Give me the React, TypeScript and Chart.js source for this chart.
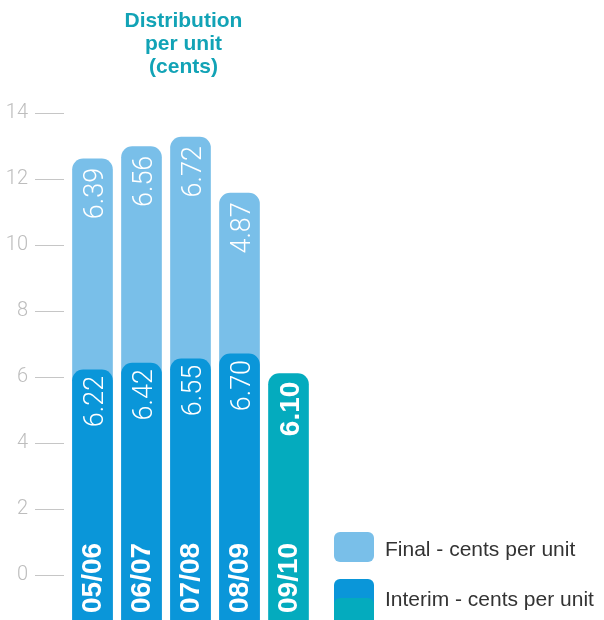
import React, { useEffect, useRef } from "react";
import { Chart, registerables } from "chart.js";

Chart.register(...registerables);

const CATEGORIES = ["05/06", "06/07", "07/08", "08/09", "09/10"];
const INTERIM = [6.22, 6.42, 6.55, 6.7, 6.1];
const FINAL: (number | null)[] = [6.39, 6.56, 6.72, 4.87, null];
const Y_TICKS = [0, 2, 4, 6, 8, 10, 12, 14];
const TITLE_LINES = ["Distribution", "per unit", "(cents)"];
const LEGEND_LABELS = ["Final - cents per unit", "Interim - cents per unit"];

const C_FINAL = "#79bfe9";
const C_INTERIM = "#0a96d9";
const C_CURRENT = "#04abbe";
const C_TITLE = "#12a3b6";

const Y_MIN = -45 / 33;
const Y_MAX = 14.5;
const X_MIN = -28.5 / 49;
const X_MAX = X_MIN + 540 / 49;

const LIGHT_FONT = "300 27px Roboto, 'Liberation Sans', sans-serif";
const BOLD_FONT = "bold 28px 'Liberation Sans', Arial, sans-serif";

const barLabels = {
  id: "barLabels",
  afterDatasetsDraw(chart: any) {
    const ctx = chart.ctx;
    const finalMeta = chart.getDatasetMeta(0);
    const interimMeta = chart.getDatasetMeta(1);
    const last = CATEGORIES.length - 1;
    ctx.save();
    ctx.fillStyle = "#ffffff";
    ctx.textBaseline = "alphabetic";
    const drawRot = (text: string, x: number, y: number, align: CanvasTextAlign, font: string) => {
      ctx.save();
      ctx.translate(x, y);
      ctx.rotate(-Math.PI / 2);
      ctx.font = font;
      ctx.textAlign = align;
      ctx.fillText(text, 0, 0);
      ctx.restore();
    };
    CATEGORIES.forEach((cat, i) => {
      const f = FINAL[i];
      const fe = finalMeta.data[i];
      if (f != null && fe) {
        drawRot(f.toFixed(2), fe.x + 10, fe.y + 9, "right", LIGHT_FONT);
      }
      const ie = interimMeta.data[i];
      if (ie) {
        drawRot(
          INTERIM[i].toFixed(2),
          ie.x + 10,
          ie.y + (i === last ? 8 : 6),
          "right",
          i === last ? BOLD_FONT : LIGHT_FONT
        );
        drawRot(cat, ie.x + 8, ie.base - 7, "left", BOLD_FONT);
      }
    });
    ctx.restore();
  },
};

export default function App() {
  const canvasRef = useRef<HTMLCanvasElement | null>(null);

  useEffect(() => {
    if (!canvasRef.current) return;
    const radius = { topLeft: 11, topRight: 11, bottomLeft: 0, bottomRight: 0 };
    const chart = new Chart(canvasRef.current, {
      type: "bar",
      data: {
        datasets: [
          {
            label: LEGEND_LABELS[0],
            data: CATEGORIES.map((_, i) => ({
              x: i,
              y: FINAL[i] == null ? null : INTERIM[i] + (FINAL[i] as number),
            })),
            backgroundColor: C_FINAL,
            order: 2,
            grouped: false,
            barThickness: 40,
            base: Y_MIN,
            borderRadius: radius,
            borderSkipped: false,
          } as any,
          {
            label: LEGEND_LABELS[1],
            data: CATEGORIES.map((_, i) => ({ x: i, y: INTERIM[i] })),
            backgroundColor: CATEGORIES.map((_, i) => (i === CATEGORIES.length - 1 ? C_CURRENT : C_INTERIM)),
            order: 1,
            grouped: false,
            barThickness: 40,
            base: Y_MIN,
            borderRadius: radius,
            borderSkipped: false,
          } as any,
        ],
      },
      options: {
        animation: false,
        responsive: true,
        maintainAspectRatio: false,
        layout: { padding: { top: 96.5, right: 0, bottom: 0, left: 0 } },
        plugins: {
          legend: { display: false },
          tooltip: { enabled: false },
          title: { display: false },
        },
        scales: {
          x: {
            type: "linear",
            display: false,
            offset: false,
            grid: { offset: false },
            min: X_MIN,
            max: X_MAX,
          },
          y: {
            type: "linear",
            min: Y_MIN,
            max: Y_MAX,
            afterBuildTicks: (scale: any) => {
              scale.ticks = Y_TICKS.map((v) => ({ value: v }));
            },
            afterFit: (scale: any) => {
              scale.width = 64;
              scale.paddingTop = 0;
              scale.paddingBottom = 0;
            },
            border: { display: false },
            grid: {
              display: true,
              drawOnChartArea: false,
              drawTicks: true,
              tickLength: 29,
              color: "#c6c6c6",
              lineWidth: 1,
            },
            ticks: {
              padding: 7,
              color: "#bdbdbd",
              font: { family: "Roboto, 'Liberation Sans', sans-serif", size: 20, weight: 300 as any },
              callback: (v: any) => String(v),
            },
          },
        },
      } as any,
      plugins: [barLabels],
    });
    return () => chart.destroy();
  }, []);

  const legendText: React.CSSProperties = {
    position: "absolute",
    left: 385,
    font: "21px 'Liberation Sans', Arial, sans-serif",
    lineHeight: "21px",
    color: "#333333",
    whiteSpace: "nowrap",
  };

  return (
    <div
      style={{
        position: "fixed",
        left: 0,
        top: 0,
        width: 604,
        height: 620,
        overflow: "hidden",
        background: "#ffffff",
      }}
    >
      <div style={{ position: "absolute", left: 0, top: 0, width: 604, height: 620 }}>
        <canvas ref={canvasRef} />
      </div>
      <div
        style={{
          position: "absolute",
          left: 0,
          top: 8,
          width: 367,
          textAlign: "center",
          font: "bold 21px 'Liberation Sans', Arial, sans-serif",
          lineHeight: "23px",
          color: C_TITLE,
        }}
      >
        {TITLE_LINES.map((l) => (
          <div key={l}>{l}</div>
        ))}
      </div>
      <div
        style={{
          position: "absolute",
          left: 334,
          top: 532,
          width: 40,
          height: 30,
          borderRadius: 6,
          background: C_FINAL,
        }}
      />
      <div style={{ ...legendText, top: 538 }}>{LEGEND_LABELS[0]}</div>
      <div
        style={{
          position: "absolute",
          left: 334,
          top: 579,
          width: 40,
          height: 60,
          borderRadius: "6px 6px 0 0",
          background: C_INTERIM,
          overflow: "hidden",
        }}
      >
        <div
          style={{
            position: "absolute",
            left: 0,
            top: 19,
            width: 40,
            height: 60,
            borderRadius: "6px 6px 0 0",
            background: C_CURRENT,
          }}
        />
      </div>
      <div style={{ ...legendText, top: 588 }}>{LEGEND_LABELS[1]}</div>
    </div>
  );
}
